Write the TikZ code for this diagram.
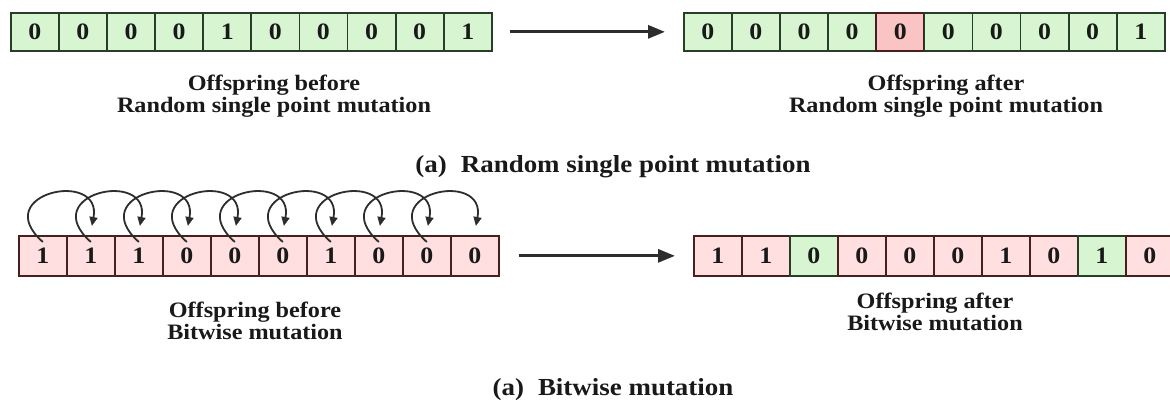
\documentclass[tikz,border=0pt]{standalone}
\usepackage{fontspec}
\setmainfont{Liberation Serif}[FakeStretch=1.1]
\usetikzlibrary{arrows.meta,calc}
\definecolor{gfill}{RGB}{214,245,208}
\definecolor{gline}{RGB}{40,62,40}
\definecolor{pfill}{RGB}{255,223,223}
\definecolor{rfill}{RGB}{250,196,196}
\definecolor{pline}{RGB}{72,30,30}
\definecolor{txt}{RGB}{25,25,25}
\definecolor{arrowcol}{RGB}{45,45,45}
\tikzset{
  cell/.style={draw, line width=1.7pt, minimum width=48pt, inner sep=0pt,
    font=\fontsize{23.5}{23.5}\selectfont\bfseries, text=txt, anchor=north west},
  gcell/.style={fill=gfill, draw=gline},
  pcell/.style={fill=pfill, draw=pline},
  rcell/.style={fill=rfill, draw=pline},
  lab/.style={align=center, text=txt, font=\fontsize{22}{22}\selectfont\bfseries},
  captext/.style={text=txt, font=\fontsize{24.5}{24.5}\selectfont\bfseries},
  bigarrow/.style={draw=arrowcol, line width=3pt, -{Triangle[length=17pt,width=13pt]}},
  hop/.style={draw=arrowcol, line width=1.8pt, -{Triangle[length=9pt,width=8pt]}}
}
\begin{document}
\begin{tikzpicture}[x=1pt,y=-1pt]
\useasboundingbox (0,0) rectangle (1170,403);
\clip (0,0) rectangle (1170,403);
% top left row
\foreach \v [count=\i] in {0,0,0,0,1,0,0,0,0,1}
  \node[cell,gcell,minimum height=38pt] (tl\i) at ({10+48.1*(\i-1)},12) {\v};
% top right row
\foreach \v/\s [count=\i] in {0/gcell,0/gcell,0/gcell,0/gcell,0/rcell,0/gcell,0/gcell,0/gcell,0/gcell,1/gcell}
  \node[cell,\s,minimum height=38pt] (tr\i) at ({683+48.1*(\i-1)},12) {\v};
% bottom left row
\foreach \v [count=\i] in {1,1,1,0,0,0,1,0,0,0}
  \node[cell,pcell,minimum height=40pt] (bl\i) at ({18+48*(\i-1)},235) {\v};
% bottom right row
\foreach \v/\s [count=\i] in {1/pcell,1/pcell,0/gcell,0/pcell,0/pcell,0/pcell,1/pcell,0/pcell,1/gcell,0/pcell}
  \node[cell,\s,minimum height=40pt] (br\i) at ({693+48*(\i-1)},235) {\v};
% hop arcs
\foreach \i [evaluate=\i as \j using int(\i+1)] in {1,...,9}
  \draw[hop] ($(bl\i.north)+(0,7)$) .. controls ($(bl\i.north)+(-55,-42)$) and ($(bl\j.north)+(12,-66)$) .. ($(bl\j.north)+(1,-9)$);
% main arrows
\draw[bigarrow, shorten <=17pt, shorten >=18pt] (tl10.east) -- (tr1.west);
\draw[bigarrow, shorten <=19pt, shorten >=18pt] (bl10.east) -- (br1.west);
% labels
\node[lab] (l1) at (274,96) {Offspring before\\Random single point mutation};
\node[lab] (l2) at (946,96) {Offspring after\\Random single point mutation};
\node[captext] (c1) at (613,167) {(a)\hspace{14pt}Random single point mutation};
\node[lab] (l3) at (255,321) {Offspring before\\Bitwise mutation};
\node[lab] (l4) at (935,312) {Offspring after\\Bitwise mutation};
\node[captext] (c2) at (613,390) {(a)\hspace{14pt}Bitwise mutation};
\end{tikzpicture}
\end{document}
